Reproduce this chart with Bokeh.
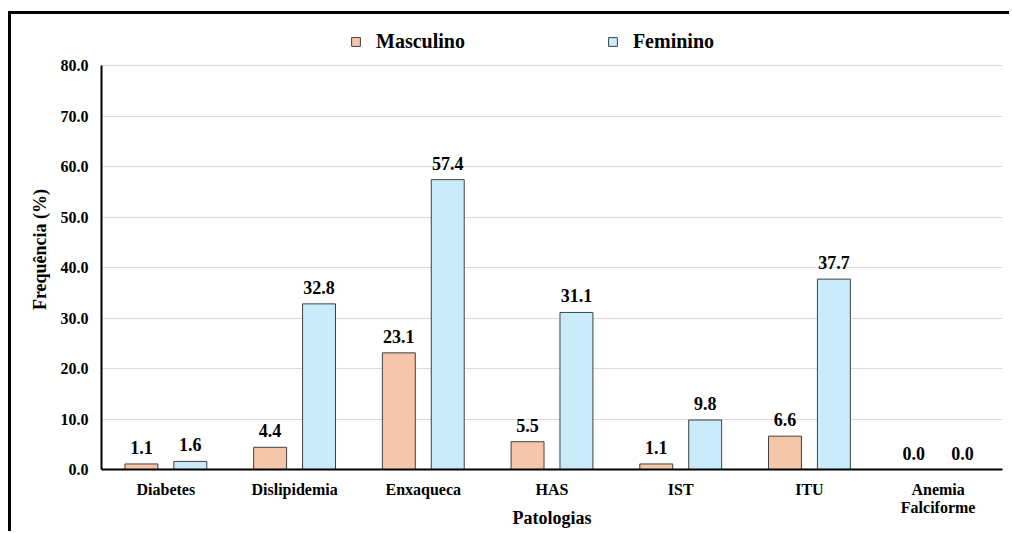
from bokeh.plotting import figure
from bokeh.models import (ColumnDataSource, FactorRange, Range1d, FixedTicker,
                          PrintfTickFormatter, LabelSet, Legend, LegendItem)
from bokeh.transform import dodge
from bokeh.embed import file_html
from bokeh.resources import INLINE

# Frequency of each condition by sex (%)
categorias = ["Diabetes", "Dislipidemia", "Enxaqueca", "HAS", "IST", "ITU",
              "Anemia\nFalciforme"]
masculino = [1.1, 4.4, 23.1, 5.5, 1.1, 6.6, 0.0]
feminino = [1.6, 32.8, 57.4, 31.1, 9.8, 37.7, 0.0]
y_ticks = [0, 10, 20, 30, 40, 50, 60, 70, 80]

FONT = "Liberation Serif"
COR_M = "#F5C6AA"
COR_F = "#C9EBFA"
CONTORNO = "#404040"

source = ColumnDataSource(data=dict(
    cat=categorias,
    masc=masculino,
    fem=feminino,
    masc_txt=[f"{v:.1f}" for v in masculino],
    fem_txt=[f"{v:.1f}" for v in feminino],
))

# The value axis runs 0-80; the extra headroom above 80 holds the legend.
p = figure(
    x_range=FactorRange(factors=categorias, range_padding=0),
    y_range=Range1d(0, 87.13),
    width=1001, height=520,
    output_backend="svg", toolbar_location=None,
    min_border_left=90, min_border_right=10,
    min_border_top=15, min_border_bottom=65,
)
p.styles = {
    "margin-left": "8px", "margin-top": "11px",
    "border-left": "3px solid black", "border-top": "3px solid black",
}
p.outline_line_color = None
p.background_fill_color = "white"
p.border_fill_color = "white"

# bars
r_m = p.vbar(x=dodge("cat", -0.19, range=p.x_range), top="masc", width=0.256,
             source=source, fill_color=COR_M, line_color=CONTORNO, line_width=1)
r_f = p.vbar(x=dodge("cat", 0.19, range=p.x_range), top="fem", width=0.256,
             source=source, fill_color=COR_F, line_color=CONTORNO, line_width=1)

# value labels
for off, col, txt in [(-0.19, "masc", "masc_txt"), (0.19, "fem", "fem_txt")]:
    p.add_layout(LabelSet(
        x=dodge("cat", off, range=p.x_range), y=col, text=txt, source=source,
        text_align="center", text_baseline="bottom", y_offset=10,
        text_font=FONT, text_font_style="bold", text_font_size="18px",
        text_color="black",
    ))

# axes
p.yaxis.ticker = FixedTicker(ticks=y_ticks)
p.yaxis.formatter = PrintfTickFormatter(format="%.1f")
p.yaxis.bounds = (0, 80)
p.yaxis.axis_label = "Frequência (%)"
p.xaxis.axis_label = "Patologias"
for ax in (p.xaxis, p.yaxis):
    ax.axis_line_color = "black"
    ax.axis_line_width = 2
    ax.major_tick_line_color = None
    ax.minor_tick_line_color = None
    ax.major_label_text_font = FONT
    ax.major_label_text_font_style = "bold"
    ax.major_label_text_font_size = "16px"
    ax.major_label_text_color = "black"
    ax.axis_label_text_font = FONT
    ax.axis_label_text_font_style = "bold"
    ax.axis_label_text_font_size = "18px"
    ax.axis_label_text_color = "black"
p.yaxis.major_label_standoff = 7
p.xaxis.major_label_standoff = 5
p.xaxis.major_label_text_line_height = 1.1
p.yaxis.axis_label_standoff = 8
p.xaxis.axis_label_standoff = -11

p.xgrid.grid_line_color = None
p.ygrid.grid_line_color = "#D9D9D9"
p.ygrid.grid_line_width = 1

legend = Legend(
    items=[LegendItem(label="Masculino", renderers=[r_m]),
           LegendItem(label="Feminino", renderers=[r_f])],
    orientation="horizontal", location=(249, 416),
    padding=0, margin=0, spacing=142,
    glyph_width=11, glyph_height=11, label_standoff=15, label_height=20,
    label_text_font=FONT, label_text_font_style="bold",
    label_text_font_size="20px", label_text_color="black",
    border_line_color=None, background_fill_alpha=0,
)
p.add_layout(legend, "center")

open("out.html", "w").write(file_html(p, INLINE))
